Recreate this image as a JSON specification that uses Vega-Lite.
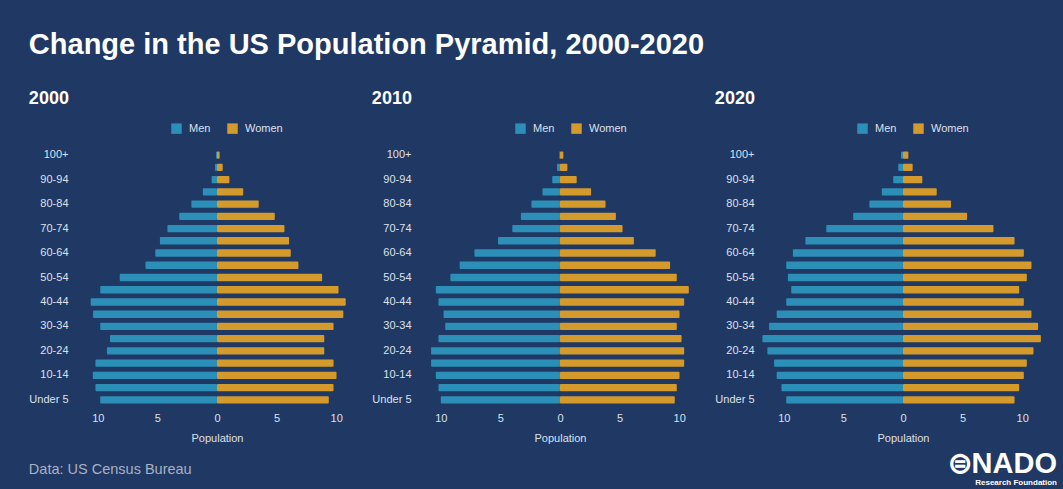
{
  "$schema": "https://vega.github.io/schema/vega-lite/v6.json",
  "background": "#1f3864",
  "padding": {"left": 28, "top": 31, "right": 14, "bottom": 2},
  "title": {"text": "Change in the US Population Pyramid, 2000-2020", "anchor": "start", "fontSize": 29, "fontWeight": "bold", "color": "#ffffff", "font": "Liberation Sans", "offset": 30},
  "datasets": {
    "pop": [
      {"year": 2000, "age": "100+", "Men": -0.08, "Women": 0.22},
      {"year": 2000, "age": "95-99", "Men": -0.17, "Women": 0.48},
      {"year": 2000, "age": "90-94", "Men": -0.45, "Women": 1.04},
      {"year": 2000, "age": "85-89", "Men": -1.19, "Women": 2.2},
      {"year": 2000, "age": "80-84", "Men": -2.15, "Women": 3.5},
      {"year": 2000, "age": "75-79", "Men": -3.17, "Women": 4.85},
      {"year": 2000, "age": "70-74", "Men": -4.16, "Women": 5.66},
      {"year": 2000, "age": "65-69", "Men": -4.79, "Women": 6.05},
      {"year": 2000, "age": "60-64", "Men": -5.18, "Women": 6.19},
      {"year": 2000, "age": "55-59", "Men": -6.0, "Women": 6.83},
      {"year": 2000, "age": "50-54", "Men": -8.16, "Women": 8.82},
      {"year": 2000, "age": "45-49", "Men": -9.8, "Women": 10.2},
      {"year": 2000, "age": "40-44", "Men": -10.6, "Women": 10.8},
      {"year": 2000, "age": "35-39", "Men": -10.4, "Women": 10.6},
      {"year": 2000, "age": "30-34", "Men": -9.8, "Women": 9.78},
      {"year": 2000, "age": "25-29", "Men": -8.98, "Women": 9.0},
      {"year": 2000, "age": "20-24", "Men": -9.24, "Women": 9.0},
      {"year": 2000, "age": "15-19", "Men": -10.2, "Women": 9.78},
      {"year": 2000, "age": "10-14", "Men": -10.42, "Women": 10.03},
      {"year": 2000, "age": "5-9", "Men": -10.2, "Women": 9.78},
      {"year": 2000, "age": "Under 5", "Men": -9.8, "Women": 9.38},
      {"year": 2010, "age": "100+", "Men": -0.06, "Women": 0.28},
      {"year": 2010, "age": "95-99", "Men": -0.25, "Women": 0.62},
      {"year": 2010, "age": "90-94", "Men": -0.65, "Women": 1.4},
      {"year": 2010, "age": "85-89", "Men": -1.47, "Women": 2.61},
      {"year": 2010, "age": "80-84", "Men": -2.4, "Women": 3.82},
      {"year": 2010, "age": "75-79", "Men": -3.28, "Women": 4.69},
      {"year": 2010, "age": "70-74", "Men": -4.0, "Women": 5.25},
      {"year": 2010, "age": "65-69", "Men": -5.2, "Women": 6.2},
      {"year": 2010, "age": "60-64", "Men": -7.18, "Women": 8.03},
      {"year": 2010, "age": "55-59", "Men": -8.42, "Women": 9.24},
      {"year": 2010, "age": "50-54", "Men": -9.2, "Women": 9.8},
      {"year": 2010, "age": "45-49", "Men": -10.42, "Women": 10.81},
      {"year": 2010, "age": "40-44", "Men": -10.2, "Women": 10.42},
      {"year": 2010, "age": "35-39", "Men": -9.77, "Women": 10.03},
      {"year": 2010, "age": "30-34", "Men": -9.63, "Women": 9.8},
      {"year": 2010, "age": "25-29", "Men": -10.2, "Women": 10.2},
      {"year": 2010, "age": "20-24", "Men": -10.82, "Women": 10.42},
      {"year": 2010, "age": "15-19", "Men": -10.82, "Women": 10.42},
      {"year": 2010, "age": "10-14", "Men": -10.42, "Women": 10.03},
      {"year": 2010, "age": "5-9", "Men": -10.2, "Women": 9.8},
      {"year": 2010, "age": "Under 5", "Men": -10.0, "Women": 9.63},
      {"year": 2020, "age": "100+", "Men": -0.17, "Women": 0.45},
      {"year": 2020, "age": "95-99", "Men": -0.4, "Women": 0.81},
      {"year": 2020, "age": "90-94", "Men": -0.82, "Women": 1.62},
      {"year": 2020, "age": "85-89", "Men": -1.78, "Women": 2.83},
      {"year": 2020, "age": "80-84", "Men": -2.82, "Women": 4.03},
      {"year": 2020, "age": "75-79", "Men": -4.18, "Women": 5.38},
      {"year": 2020, "age": "70-74", "Men": -6.44, "Women": 7.59},
      {"year": 2020, "age": "65-69", "Men": -8.19, "Women": 9.36},
      {"year": 2020, "age": "60-64", "Men": -9.24, "Women": 10.14},
      {"year": 2020, "age": "55-59", "Men": -9.8, "Women": 10.78},
      {"year": 2020, "age": "50-54", "Men": -9.66, "Women": 10.39},
      {"year": 2020, "age": "45-49", "Men": -9.38, "Women": 9.75},
      {"year": 2020, "age": "40-44", "Men": -9.8, "Women": 10.14},
      {"year": 2020, "age": "35-39", "Men": -10.6, "Women": 10.78},
      {"year": 2020, "age": "30-34", "Men": -11.24, "Women": 11.34},
      {"year": 2020, "age": "25-29", "Men": -11.8, "Women": 11.57},
      {"year": 2020, "age": "20-24", "Men": -11.38, "Women": 10.95},
      {"year": 2020, "age": "15-19", "Men": -10.82, "Women": 10.39},
      {"year": 2020, "age": "10-14", "Men": -10.6, "Women": 10.14},
      {"year": 2020, "age": "5-9", "Men": -10.2, "Women": 9.75},
      {"year": 2020, "age": "Under 5", "Men": -9.8, "Women": 9.36}
    ]
  },
  "vconcat": [
    {
      "title": {"text": "⊜NADO", "subtitle": "Research Foundation", "orient": "bottom", "anchor": "end", "fontSize": 29, "fontWeight": "bold", "color": "#ffffff", "font": "Liberation Sans", "subtitleFontSize": 8, "subtitleFontWeight": "bold", "subtitleColor": "#ffffff", "subtitlePadding": 0, "offset": 0, "dy": -27, "dx": 11},
      "vconcat": [
        {
          "title": {"text": "Data: US Census Bureau", "orient": "bottom", "anchor": "start", "fontSize": 14.5, "fontWeight": "normal", "color": "#a9b1c2", "font": "Liberation Sans", "offset": 20},
          "spacing": 11,
          "resolve": {"legend": {"color": "independent"}},
          "hconcat": [
            {
              "title": {"text": "2000"},
              "width": 286, "height": 257,
              "data": {"name": "pop"},
              "transform": [{"filter": "datum.year == 2000"}, {"fold": ["Men", "Women"], "as": ["sex", "population"]}],
              "mark": {"type": "bar"},
              "encoding": {
                "y": {"field": "age", "type": "ordinal", "title": null, "sort": ["100+", "95-99", "90-94", "85-89", "80-84", "75-79", "70-74", "65-69", "60-64", "55-59", "50-54", "45-49", "40-44", "35-39", "30-34", "25-29", "20-24", "15-19", "10-14", "5-9", "Under 5"], "scale": {"paddingInner": 0.4, "paddingOuter": 0.2}, "axis": {"values": ["100+", "90-94", "80-84", "70-74", "60-64", "50-54", "40-44", "30-34", "20-24", "10-14", "Under 5"]}},
                "x": {"field": "population", "type": "quantitative", "stack": null, "title": "Population", "scale": {"domain": [-12, 12], "nice": false}, "axis": {"values": [-10, -5, 0, 5, 10], "labelExpr": "abs(datum.value)"}},
                "color": {"field": "sex", "type": "nominal", "scale": {"domain": ["Men", "Women"], "range": ["#2b8fb8", "#d49b2c"]}, "legend": {"legendX": 97, "legendY": -26}}
              }
            },
            {
              "title": {"text": "2010"},
              "width": 286, "height": 257,
              "data": {"name": "pop"},
              "transform": [{"filter": "datum.year == 2010"}, {"fold": ["Men", "Women"], "as": ["sex", "population"]}],
              "mark": {"type": "bar"},
              "encoding": {
                "y": {"field": "age", "type": "ordinal", "title": null, "sort": ["100+", "95-99", "90-94", "85-89", "80-84", "75-79", "70-74", "65-69", "60-64", "55-59", "50-54", "45-49", "40-44", "35-39", "30-34", "25-29", "20-24", "15-19", "10-14", "5-9", "Under 5"], "scale": {"paddingInner": 0.4, "paddingOuter": 0.2}, "axis": {"values": ["100+", "90-94", "80-84", "70-74", "60-64", "50-54", "40-44", "30-34", "20-24", "10-14", "Under 5"]}},
                "x": {"field": "population", "type": "quantitative", "stack": null, "title": "Population", "scale": {"domain": [-12, 12], "nice": false}, "axis": {"values": [-10, -5, 0, 5, 10], "labelExpr": "abs(datum.value)"}},
                "color": {"field": "sex", "type": "nominal", "scale": {"domain": ["Men", "Women"], "range": ["#2b8fb8", "#d49b2c"]}, "legend": {"legendX": 98, "legendY": -26}}
              }
            },
            {
              "title": {"text": "2020"},
              "width": 286, "height": 257,
              "data": {"name": "pop"},
              "transform": [{"filter": "datum.year == 2020"}, {"fold": ["Men", "Women"], "as": ["sex", "population"]}],
              "mark": {"type": "bar"},
              "encoding": {
                "y": {"field": "age", "type": "ordinal", "title": null, "sort": ["100+", "95-99", "90-94", "85-89", "80-84", "75-79", "70-74", "65-69", "60-64", "55-59", "50-54", "45-49", "40-44", "35-39", "30-34", "25-29", "20-24", "15-19", "10-14", "5-9", "Under 5"], "scale": {"paddingInner": 0.4, "paddingOuter": 0.2}, "axis": {"values": ["100+", "90-94", "80-84", "70-74", "60-64", "50-54", "40-44", "30-34", "20-24", "10-14", "Under 5"]}},
                "x": {"field": "population", "type": "quantitative", "stack": null, "title": "Population", "scale": {"domain": [-12, 12], "nice": false}, "axis": {"values": [-10, -5, 0, 5, 10], "labelExpr": "abs(datum.value)"}},
                "color": {"field": "sex", "type": "nominal", "scale": {"domain": ["Men", "Women"], "range": ["#2b8fb8", "#d49b2c"]}, "legend": {"legendX": 97, "legendY": -26}}
              }
            }
          ]
        }
      ]
    }
  ],
  "config": {
    "font": "Liberation Sans",
    "view": {"stroke": null},
    "axis": {"domain": false, "ticks": false, "grid": false, "labelColor": "#dde1ea", "labelFontSize": 11, "labelFont": "Liberation Sans", "titleColor": "#dde1ea", "titleFontSize": 11, "titleFontWeight": "normal", "titleFont": "Liberation Sans", "labelPadding": 6, "titlePadding": 9},
    "legend": {"orient": "none", "direction": "horizontal", "title": null, "symbolType": "square", "symbolSize": 110, "symbolStrokeWidth": 0, "symbolOpacity": 1, "labelColor": "#dde1ea", "labelFontSize": 11, "labelFont": "Liberation Sans", "columnPadding": 16, "labelOffset": 7},
    "title": {"anchor": "start", "fontSize": 18, "fontWeight": "bold", "color": "#ffffff", "font": "Liberation Sans", "offset": 15},
    "bar": {"cornerRadius": 1}
  }
}
